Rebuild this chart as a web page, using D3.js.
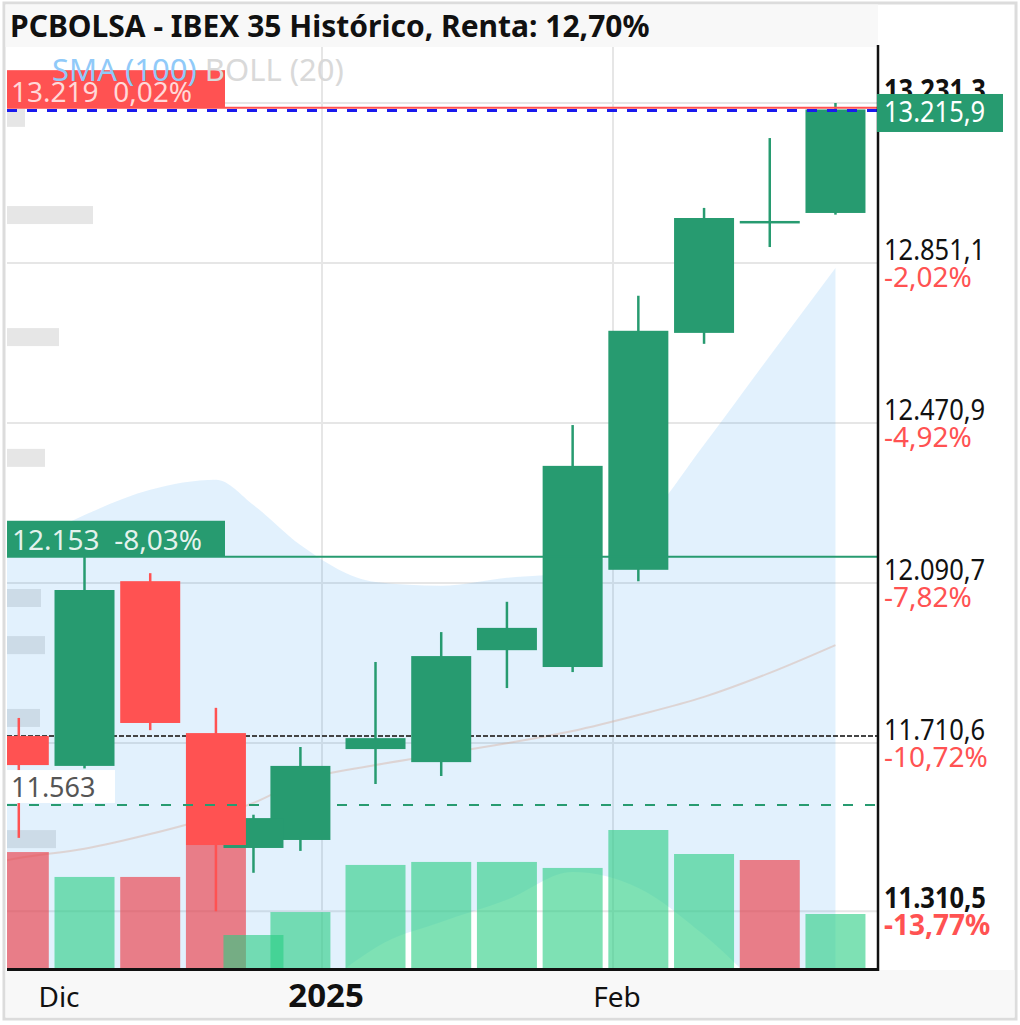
<!DOCTYPE html>
<html>
<head>
<meta charset="utf-8">
<script src="https://cdn.jsdelivr.net/npm/d3@7"></script>
<style>
  html, body { margin: 0; padding: 0; background: #fff; }
  svg { display: block; }
  text { font-family: "Noto Sans", Roboto, sans-serif; }
</style>
</head>
<body>
<svg id="chart" width="1020" height="1025"></svg>
<script>
// ---- data: weekly candles IBEX 35 ----
const dates  = ['2024-11-29', '2024-12-06', '2024-12-13', '2024-12-20', '2024-12-24', '2024-12-29',
  '2025-01-06', '2025-01-13', '2025-01-20', '2025-01-27', '2025-02-03', '2025-02-10', '2025-02-17', '2025-02-24'];
const opens  = [11727, 11656, 12095, 11734, 11461, 11480, 11696, 11665, 11931, 11891, 12122, 12685, 12948, 12970];
const highs  = [11770, 12153, 12114, 11794, 11540, 11701, 11903, 11974, 12046, 12466, 12773, 12982, 13148, 13231.3];
const lows   = [11485, 11650, 11741, 11310.5, 11402, 11454, 11613, 11632, 11841, 11879, 12095, 12659, 12889, 12966];
const closes = [11658, 12074, 11758, 11468, 11532, 11656, 11722, 11917, 11984, 12369, 12690, 12958, 12951, 13215.9];
const volumes  = [773, 607, 607, 820, 220, 373, 687, 707, 707, 667, 920, 760, 720, 360];
const volumeUp = [false, true, false, false, true, true, true, true, true, true, true, true, false, true];

// BOLL (20), one more week before the first visible candle
const bollDates  = ['2024-11-22', ...dates];
const bollUpper  = [12110, 12174, 12252, 12312, 12336, 12276, 12181, 12093, 12084, 12103, 12117, 12217, 12419, 12630, 12839];
const bollMiddle = [11404, 11437, 11459, 11494, 11537, 11568, 11620, 11658, 11684, 11710, 11739, 11777, 11820, 11877, 11943];
const bollLower  = [10696, 10701, 10665, 10677, 10739, 10860, 11060, 11224, 11285, 11338, 11404, 11366, 11254, 11112, 11005];

// price axis (the top percentage sits under the last-price tag, so it is left out)
const priceTicks  = [13231.3, 12851.1, 12470.9, 12090.7, 11710.6, 11310.5];
const priceLabels = ['13.231,3', '12.851,1', '12.470,9', '12.090,7', '11.710,6', '11.310,5'];
const pctLabels   = [null, '-2,02%', '-4,92%', '-7,82%', '-10,72%', '-13,77%'];

// time axis
const monthTicks  = ['2024-12-01', '2025-01-01', '2025-02-01'];
const monthLabels = ['Dic', '2025', 'Feb'];

// marked levels
const lastClose = 13215.9, lastCloseLabel = '13.215,9';
const highLevel = 13219, highLabel = '13.219  0,02%';
const lowLevel = 12153, lowLabel = '12.153  -8,03%';
const entryLevel = 11727;           // base of "Renta: 12,70%"
const stopLevel = 11563, stopLabel = '11.563';
const ghostLevels = [13196, 12965, 12675, 12388, 12055, 11943, 11770, 11482];

const title = 'PCBOLSA - IBEX 35 Histórico, Renta: 12,70%';

// ---- layout ----
const plot = { left: 7, right: 878, top: 47, bottom: 968 };
const GREEN = '#279b70', RED = '#ff5252';
const parse = d3.timeParse('%Y-%m-%d');
const svg = d3.select('#chart');

const x = d3.scaleTime().domain([new Date(2025, 0, 1), new Date(2025, 1, 1)]).range([322, 613]);
const y = d3.scaleLinear().domain([11310.5, 13231.3]).range([911.3, 103]);
const vy = d3.scaleLinear().domain([0, 1000]).range([plot.bottom, 818]);
const cx = d => x(new Date(+parse(d) + 0.7 * 864e5)); // candles sit a bit after the day start
const bodyW = 60;

function addText(parent, str, px, py, o = {}) {
  return parent.append('text')
    .attr('transform', `translate(${px},${py}) scale(${o.sx || 1},1)`)
    .attr('font-size', o.size || 28)
    .attr('font-weight', o.weight || 'normal')
    .attr('fill', o.fill || '#111')
    .attr('text-anchor', o.anchor || 'start')
    .attr('xml:space', 'preserve')
    .text(str);
}

// frame + bars
svg.append('rect').attr('x', 4).attr('y', 3).attr('width', 1012).attr('height', 1016)
  .attr('fill', '#fff').attr('stroke', '#dcdcdc').attr('stroke-width', 3);
svg.append('rect').attr('x', 5.5).attr('y', 4.5).attr('width', plot.right - 5.5).attr('height', plot.top - 4.5).attr('fill', '#f8f8f8');
svg.append('rect').attr('x', 5.5).attr('y', plot.bottom + 2).attr('width', 1009).attr('height', 1017.5 - plot.bottom - 2).attr('fill', '#f8f8f8');

svg.append('clipPath').attr('id', 'clip').append('rect')
  .attr('x', plot.left).attr('y', plot.top).attr('width', plot.right - plot.left).attr('height', plot.bottom - plot.top);
const g = svg.append('g').attr('clip-path', 'url(#clip)');

// grid
g.selectAll('line.hgrid').data(priceTicks).join('line').attr('class', 'hgrid')
  .attr('x1', plot.left).attr('x2', plot.right).attr('y1', d => y(d)).attr('y2', d => y(d))
  .attr('stroke', '#e6e6e6').attr('stroke-width', 2);
g.selectAll('line.vgrid').data(monthTicks.slice(1)).join('line').attr('class', 'vgrid')
  .attr('x1', d => x(parse(d))).attr('x2', d => x(parse(d))).attr('y1', plot.top).attr('y2', plot.bottom)
  .attr('stroke', '#e6e6e6').attr('stroke-width', 2);

// faded left labels
const ghostW = [18, 86, 52, 38, 34, 38, 33, 49];
g.selectAll('rect.ghost').data(ghostLevels).join('rect').attr('class', 'ghost')
  .attr('x', plot.left).attr('y', d => y(d) - 9).attr('width', (d, i) => ghostW[i]).attr('height', 18)
  .attr('fill', '#e6e6e6');

// bollinger band
const band = d3.area().curve(d3.curveMonotoneX)
  .x((d, i) => cx(bollDates[i])).y0((d, i) => y(bollLower[i])).y1((d, i) => y(bollUpper[i]));
g.append('path').attr('d', band(bollDates)).attr('fill', 'rgba(33,150,243,0.13)');
const mid = d3.line().curve(d3.curveMonotoneX).x((d, i) => cx(bollDates[i])).y((d, i) => y(bollMiddle[i]));
g.append('path').attr('d', mid(bollDates)).attr('fill', 'none').attr('stroke', 'rgba(215,170,150,0.4)').attr('stroke-width', 2);

// volume
g.selectAll('rect.vol').data(volumes).join('rect').attr('class', 'vol')
  .attr('x', (d, i) => cx(dates[i]) - bodyW / 2).attr('width', bodyW)
  .attr('y', d => vy(d)).attr('height', d => vy(0) - vy(d))
  .attr('fill', (d, i) => volumeUp[i] ? 'rgba(40,205,130,0.6)' : 'rgba(235,70,80,0.68)');

// entry level (dotted)
g.append('line').attr('x1', plot.left).attr('x2', plot.right).attr('y1', y(entryLevel)).attr('y2', y(entryLevel))
  .attr('stroke', '#444').attr('stroke-width', 2).attr('stroke-dasharray', '5,2');

// candles, later weeks first so earlier bodies overlap them
const idx = d3.range(dates.length).reverse();
const candle = g.selectAll('g.candle').data(idx).join('g').attr('class', 'candle')
  .attr('fill', i => closes[i] >= opens[i] ? GREEN : RED)
  .attr('stroke', i => closes[i] >= opens[i] ? GREEN : RED);
candle.append('line').attr('x1', i => cx(dates[i])).attr('x2', i => cx(dates[i]))
  .attr('y1', i => y(highs[i])).attr('y2', i => y(lows[i])).attr('stroke-width', 2.5);
candle.append('rect').attr('stroke', 'none')
  .attr('x', i => cx(dates[i]) - bodyW / 2).attr('width', bodyW)
  .attr('y', i => y(Math.max(opens[i], closes[i])))
  .attr('height', i => Math.max(2.5, Math.abs(y(opens[i]) - y(closes[i]))));

// marked levels over candles
g.append('line').attr('x1', plot.left).attr('x2', plot.right).attr('y1', y(stopLevel)).attr('y2', y(stopLevel))
  .attr('stroke', GREEN).attr('stroke-width', 2).attr('stroke-dasharray', '10,12');
g.append('line').attr('x1', plot.left).attr('x2', plot.right).attr('y1', y(lowLevel)).attr('y2', y(lowLevel))
  .attr('stroke', GREEN).attr('stroke-width', 2);
g.append('line').attr('x1', plot.left).attr('x2', plot.right).attr('y1', y(highLevel) - 0.5).attr('y2', y(highLevel) - 0.5)
  .attr('stroke', RED).attr('stroke-width', 2);
g.append('line').attr('x1', plot.left).attr('x2', plot.right).attr('y1', y(lastClose) + 1).attr('y2', y(lastClose) + 1)
  .attr('stroke', '#1a1aee').attr('stroke-width', 3).attr('stroke-dasharray', '10,10');

// level tags on the left
g.append('rect').attr('x', plot.left).attr('y', y(stopLevel) - 35).attr('width', 108).attr('height', 33).attr('fill', '#fff');
addText(g, stopLabel, 11, y(stopLevel) - 8, { fill: '#555', size: 27 });
g.append('rect').attr('x', plot.left).attr('y', y(lowLevel) - 36).attr('width', 218).attr('height', 36).attr('fill', GREEN);
addText(g, lowLabel, 12, y(lowLevel) - 7, { fill: 'rgba(255,255,255,0.88)' });
g.append('rect').attr('x', plot.left).attr('y', y(highLevel) - 38).attr('width', 218).attr('height', 37).attr('fill', RED);
addText(g, highLabel, 11, y(highLevel) - 6, { fill: 'rgba(255,255,255,0.78)' });

// legend
const leg = g.append('text').attr('x', 52).attr('y', 81).attr('font-size', 31);
leg.append('tspan').attr('fill', '#90caf9').text('SMA (100)');
leg.append('tspan').attr('fill', '#d9d9d9').text(' BOLL (20)');

// axes
svg.append('line').attr('x1', plot.right).attr('x2', plot.right).attr('y1', 45).attr('y2', plot.bottom + 3)
  .attr('stroke', '#111').attr('stroke-width', 2.5);
svg.append('line').attr('x1', plot.left).attr('x2', plot.right).attr('y1', plot.bottom + 1.5).attr('y2', plot.bottom + 1.5)
  .attr('stroke', '#111').attr('stroke-width', 3);

// price labels
priceTicks.forEach((v, i) => {
  const edge = i === 0 || i === priceTicks.length - 1;
  addText(svg, priceLabels[i], 884, y(v) - 3, { size: 29, sx: 0.88, weight: edge ? 'bold' : 'normal' });
  if (pctLabels[i]) addText(svg, pctLabels[i], 884, y(v) + 24, { fill: RED, weight: i === priceTicks.length - 1 ? 'bold' : 'normal' });
});
svg.append('rect').attr('x', 877).attr('y', y(lastClose) - 15.5).attr('width', 126).attr('height', 38).attr('fill', GREEN);
addText(svg, lastCloseLabel, 884, y(lastClose) + 13, { fill: '#fff', size: 29, sx: 0.88 });

// month labels ("Dic" is kept clear of the left edge)
monthTicks.forEach((d, i) => {
  const px = Math.max(x(parse(d)) + 4, 59);
  addText(svg, monthLabels[i], px, 1007, { anchor: 'middle', size: i === 1 ? 33 : 28, weight: i === 1 ? 'bold' : 'normal' });
});

// title
addText(svg, title, 10, 37, { weight: 'bold', size: 30 });
</script>
</body>
</html>
